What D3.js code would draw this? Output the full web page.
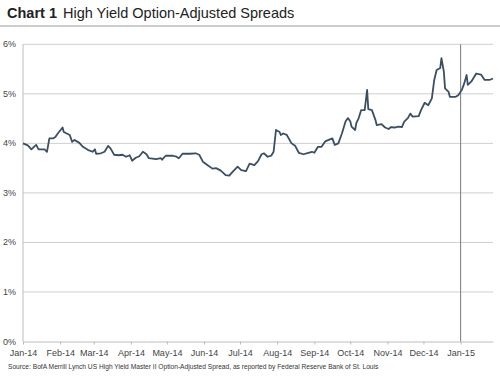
<!DOCTYPE html>
<html>
<head>
<meta charset="utf-8">
<script src="https://cdn.jsdelivr.net/npm/d3@7"></script>
<style>
  body { margin: 0; background: #fff; }
  text { font-family: "Liberation Sans", Arial, Helvetica, sans-serif; }
</style>
</head>
<body>
<svg width="500" height="376"></svg>
<script>
// spread readings (percent)
var dates = [
  '2014-01-01','2014-01-05','2014-01-08','2014-01-11','2014-01-12','2014-01-14','2014-01-19','2014-01-21',
  '2014-01-23','2014-01-26','2014-01-28','2014-01-30','2014-02-03','2014-02-04','2014-02-09','2014-02-11',
  '2014-02-13','2014-02-17','2014-02-20','2014-02-24','2014-02-28','2014-03-02','2014-03-03','2014-03-07',
  '2014-03-10','2014-03-13','2014-03-15','2014-03-18','2014-03-22','2014-03-25','2014-03-28','2014-03-31',
  '2014-04-02','2014-04-05','2014-04-08','2014-04-11','2014-04-14','2014-04-16','2014-04-22','2014-04-26',
  '2014-04-27','2014-04-30','2014-05-06','2014-05-09','2014-05-11','2014-05-14','2014-05-20','2014-05-25',
  '2014-05-28','2014-05-31','2014-06-04','2014-06-08','2014-06-11','2014-06-15','2014-06-19','2014-06-22',
  '2014-06-25','2014-06-29','2014-07-02','2014-07-06','2014-07-09','2014-07-13','2014-07-16','2014-07-19',
  '2014-07-21','2014-07-24','2014-07-27','2014-07-29','2014-07-31','2014-08-03','2014-08-04','2014-08-06',
  '2014-08-09','2014-08-13','2014-08-16','2014-08-19','2014-08-23','2014-08-27','2014-08-30','2014-09-01',
  '2014-09-04','2014-09-07','2014-09-10','2014-09-13','2014-09-16','2014-09-18','2014-09-21','2014-09-24',
  '2014-09-27','2014-09-29','2014-10-01','2014-10-02','2014-10-05','2014-10-06','2014-10-08','2014-10-10',
  '2014-10-13','2014-10-15','2014-10-16','2014-10-19','2014-10-22','2014-10-23','2014-10-27','2014-10-30',
  '2014-11-02','2014-11-04','2014-11-07','2014-11-10','2014-11-13','2014-11-15','2014-11-18','2014-11-20',
  '2014-11-22','2014-11-27','2014-11-29','2014-12-02','2014-12-05','2014-12-08','2014-12-10','2014-12-12',
  '2014-12-15','2014-12-16','2014-12-18','2014-12-19','2014-12-22','2014-12-23','2014-12-28','2014-12-30',
  '2015-01-02','2015-01-04','2015-01-06','2015-01-07','2015-01-10','2015-01-14','2015-01-18','2015-01-21',
  '2015-01-25','2015-01-28'
];
var spreads = [
  4.00,3.96,3.88,3.95,3.97,3.88,3.88,3.83,
  4.10,4.10,4.13,4.20,4.32,4.23,4.17,4.03,
  4.07,4.01,3.93,3.87,3.83,3.88,3.79,3.80,
  3.83,3.95,3.90,3.77,3.76,3.77,3.73,3.76,
  3.65,3.71,3.74,3.83,3.78,3.70,3.68,3.70,
  3.67,3.75,3.75,3.73,3.70,3.79,3.79,3.80,
  3.77,3.63,3.56,3.49,3.50,3.45,3.36,3.35,
  3.43,3.53,3.46,3.44,3.59,3.56,3.64,3.78,
  3.80,3.73,3.75,3.83,4.27,4.23,4.17,4.20,
  4.17,4.00,3.95,3.81,3.78,3.81,3.83,3.81,
  3.93,3.93,4.04,4.07,4.10,3.97,4.00,4.20,
  4.44,4.51,4.44,4.34,4.27,4.41,4.51,4.67,
  4.67,5.08,4.69,4.67,4.47,4.37,4.39,4.32,
  4.29,4.33,4.32,4.34,4.33,4.44,4.51,4.60,
  4.54,4.55,4.67,4.82,4.77,4.91,5.28,5.48,
  5.52,5.72,5.45,5.11,5.04,4.94,4.94,4.97,
  5.08,5.21,5.38,5.18,5.25,5.41,5.39,5.28,
  5.28,5.31
];
var yTicks = [0, 1, 2, 3, 4, 5, 6];
var monthTicks = ['2014-01-01','2014-02-01','2014-03-01','2014-04-01','2014-05-01','2014-06-01','2014-07-01',
  '2014-08-01','2014-09-01','2014-10-01','2014-11-01','2014-12-01','2015-01-01'];
var markerDate = '2015-01-01';

function drawChart() {
    var parse = d3.timeParse('%Y-%m-%d');
    var data = dates.map(function(d, i) { return {date: parse(d), v: spreads[i]}; });

    var svg = d3.select('svg');
    var x0 = 23, x1 = 493, y0 = 341.5, y1 = 44.3;

    var x = d3.scaleTime()
        .domain([parse('2014-01-01'), parse('2015-01-28')])
        .range([x0, x1]);
    var y = d3.scaleLinear().domain([0, 6]).range([y0, y1]);

    // title
    var title = svg.append('text').attr('x', 7).attr('y', 18)
        .style('font-size', '14.5px').style('fill', '#222');
    title.append('tspan').style('font-weight', 'bold').text('Chart 1');
    title.append('tspan').attr('dx', 6).text('High Yield Option-Adjusted Spreads');

    svg.append('line').attr('x1', 0).attr('x2', 500).attr('y1', 26).attr('y2', 26)
        .style('stroke', '#9a9a9a').style('stroke-width', 1);

    // gridlines
    svg.append('g').selectAll('line').data(yTicks.slice(1)).enter().append('line')
        .attr('x1', x0).attr('x2', x1)
        .attr('y1', function(d) { return y(d); })
        .attr('y2', function(d) { return y(d); })
        .style('stroke', '#cfcfcf').style('stroke-width', 1);

    // y axis labels
    svg.append('g').selectAll('text').data(yTicks).enter().append('text')
        .attr('x', 16).attr('y', function(d) { return y(d) + 3; })
        .attr('text-anchor', 'end')
        .style('font-size', '9px').style('fill', '#444')
        .text(function(d) { return d + '%'; });

    // left axis + bottom axis
    svg.append('line').attr('x1', x0).attr('x2', x0).attr('y1', y1).attr('y2', y0)
        .style('stroke', '#bdbdbd');

    var xAxis = d3.axisBottom(x)
        .tickValues(monthTicks.map(parse))
        .tickFormat(d3.timeFormat('%b-%y'))
        .tickSize(3).tickSizeOuter(0);

    var gx = svg.append('g').attr('transform', 'translate(0,' + y0 + ')').call(xAxis);
    gx.select('.domain').style('stroke', '#bdbdbd');
    gx.selectAll('.tick line').style('stroke', '#bdbdbd');
    gx.selectAll('.tick text').attr('y', 8)
        .style('font-size', '9px').style('fill', '#444')
        .style('font-family', '"Liberation Sans", Arial, sans-serif');

    // year marker
    svg.append('line')
        .attr('x1', x(parse(markerDate))).attr('x2', x(parse(markerDate)))
        .attr('y1', y1).attr('y2', y0)
        .style('stroke', '#7a7a7a').style('stroke-width', 1);

    // spread line
    var line = d3.line()
        .x(function(d) { return x(d.date); })
        .y(function(d) { return y(d.v); });

    svg.append('path').datum(data)
        .attr('d', line)
        .style('fill', 'none')
        .style('stroke', '#3c4e64')
        .style('stroke-width', 1.8)
        .style('stroke-linejoin', 'round');

    // source note
    svg.append('text').attr('x', 8).attr('y', 368.5)
        .style('font-size', '6.65px').style('fill', '#333')
        .text('Source:  BofA Merrill Lynch US High Yield Master II Option-Adjusted Spread, as reported by Federal Reserve Bank of St. Louis');
}

drawChart();
</script>
</body>
</html>
